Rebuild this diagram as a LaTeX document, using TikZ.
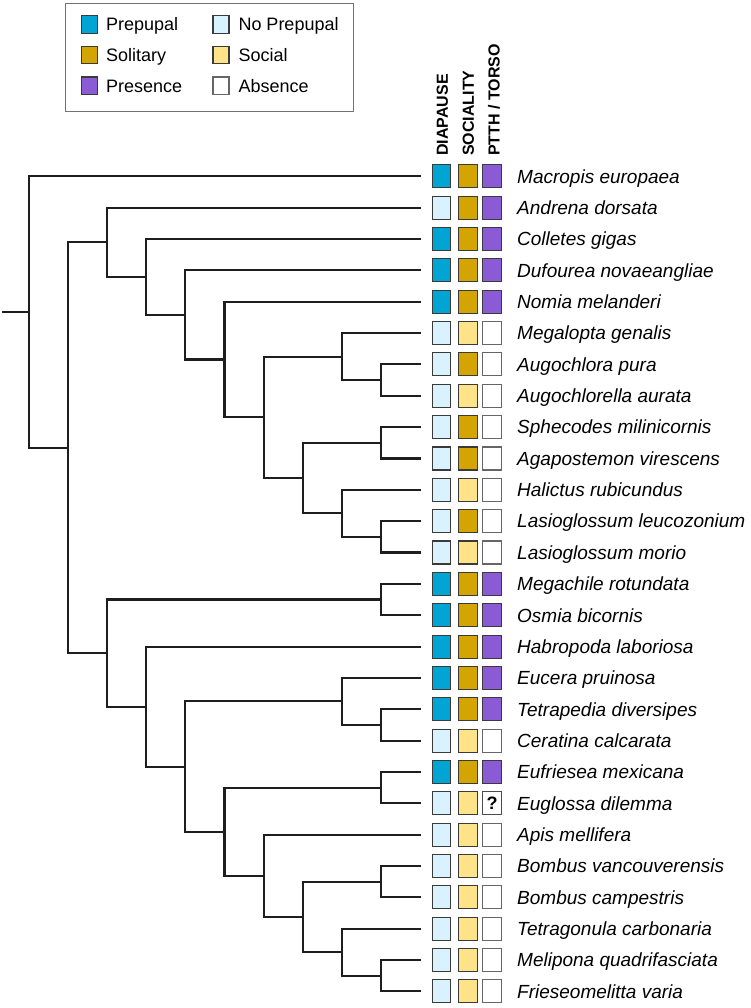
\documentclass[tikz,border=0pt]{standalone}
\usepackage{fontspec}
\setmainfont{Liberation Sans}
\setsansfont{Liberation Sans}
\definecolor{cPre}{HTML}{00A5D3}
\definecolor{cNoPre}{HTML}{D8F3FF}
\definecolor{cSol}{HTML}{D4A500}
\definecolor{cSoc}{HTML}{FFE388}
\definecolor{cPres}{HTML}{8A5BD5}
\definecolor{cAbs}{HTML}{FFFFFF}
\definecolor{cEdge}{HTML}{3A3A3A}
\definecolor{cTree}{HTML}{1E1E1E}
\tikzset{
  branch/.style={draw=cTree, line width=2.1pt, line cap=rect, line join=miter},
  cell/.style={draw=cEdge, line width=1.1pt, minimum width=18.5pt, minimum height=23pt, inner sep=0pt, anchor=center},
  lcell/.style={draw=cEdge, line width=1.1pt, minimum width=16pt, minimum height=17.5pt, inner sep=0pt, anchor=center},
  dpre/.style={fill=cPre}, dnop/.style={fill=cNoPre},
  ssol/.style={fill=cSol}, ssoc/.style={fill=cSoc},
  ppre/.style={fill=cPres}, pabs/.style={fill=cAbs, draw=black!60}, pq/.style={fill=cAbs, draw=black!70, font=\fontsize{18}{18}\selectfont\bfseries},
  sp/.style={anchor=base west, inner sep=0pt, font=\fontsize{19}{19}\selectfont\itshape},
  hdr/.style={rotate=90, anchor=west, inner sep=0pt, font=\fontsize{16}{16}\selectfont\bfseries},
  lgt/.style={anchor=base west, inner sep=0pt, font=\fontsize{18}{18}\selectfont},
}
\begin{document}
\begin{tikzpicture}[x=1pt, y=-1pt]
\useasboundingbox (0,0) rectangle (750,1008);
\fill[white] (0,0) rectangle (750,1008);

% legend
\node[draw=black!55, line width=1.2pt, minimum width=287.7pt, minimum height=108pt, inner sep=0pt, anchor=north west] (legend) at (65,2.7) {};
\node[lcell, dpre] (l1) at (89.7,24.5) {};
\node[lgt] (l1t) at (106,30.8) {Prepupal};
\node[lcell, ssol] (l2) at (89.7,55.2) {};
\node[lgt] (l2t) at (106,61.5) {Solitary};
\node[lcell, ppre] (l3) at (89.7,85.8) {};
\node[lgt] (l3t) at (106,92.1) {Presence};
\node[lcell, dnop] (l4) at (221,24.5) {};
\node[lgt] (l4t) at (238.3,30.8) {No Prepupal};
\node[lcell, ssoc] (l5) at (221,55.2) {};
\node[lgt] (l5t) at (238.3,61.5) {Social};
\node[lcell, pabs] (l6) at (221,85.8) {};
\node[lgt] (l6t) at (238.3,92.1) {Absence};

% headers
\node[hdr] (h1) at (442.3,156) {DIAPAUSE};
\node[hdr] (h2) at (468.3,156) {SOCIALITY};
\node[hdr] (h3) at (494,156) {PTTH / TORSO};

% rows
\foreach \i/\a/\b/\c/\q/\name in {
 0/dpre/ssol/ppre//Macropis europaea,
 1/dnop/ssol/ppre//Andrena dorsata,
 2/dpre/ssol/ppre//Colletes gigas,
 3/dpre/ssol/ppre//Dufourea novaeangliae,
 4/dpre/ssol/ppre//Nomia melanderi,
 5/dnop/ssoc/pabs//Megalopta genalis,
 6/dnop/ssol/pabs//Augochlora pura,
 7/dnop/ssoc/pabs//Augochlorella aurata,
 8/dnop/ssol/pabs//Sphecodes milinicornis,
 9/dnop/ssol/pabs//Agapostemon virescens,
 10/dnop/ssoc/pabs//Halictus rubicundus,
 11/dnop/ssol/pabs//Lasioglossum leucozonium,
 12/dnop/ssoc/pabs//Lasioglossum morio,
 13/dpre/ssol/ppre//Megachile rotundata,
 14/dpre/ssol/ppre//Osmia bicornis,
 15/dpre/ssol/ppre//Habropoda laboriosa,
 16/dpre/ssol/ppre//Eucera pruinosa,
 17/dpre/ssol/ppre//Tetrapedia diversipes,
 18/dnop/ssoc/pabs//Ceratina calcarata,
 19/dpre/ssol/ppre//Eufriesea mexicana,
 20/dnop/ssoc/pq/?/Euglossa dilemma,
 21/dnop/ssoc/pabs//Apis mellifera,
 22/dnop/ssoc/pabs//Bombus vancouverensis,
 23/dnop/ssoc/pabs//Bombus campestris,
 24/dnop/ssoc/pabs//Tetragonula carbonaria,
 25/dnop/ssoc/pabs//Melipona quadrifasciata,
 26/dnop/ssoc/pabs//Frieseomelitta varia}{
  \pgfmathsetmacro{\yy}{176.3+31.35*\i}
  \coordinate (t\i) at (420,\yy);
  \node[cell, \a] (d\i) at (441.3,\yy) {};
  \node[cell, \b] (s\i) at (468,\yy) {};
  \node[cell, \c] (p\i) at (492,\yy) {\q};
  \node[sp] (n\i) at (517,\yy+6.8) {\name};
}

% internal nodes
\coordinate (stub) at (2.7,311.99);
\coordinate (root) at (29,311.99);
\coordinate (A) at (68.1,447.68);
\coordinate (B) at (107.2,242.3);
\coordinate (C) at (146.3,276.96);
\coordinate (D) at (185.4,314.93);
\coordinate (E) at (224.5,359.5);
\coordinate (F) at (263.6,417.3);
\coordinate (G) at (341.8,356.56);
\coordinate (H) at (380.9,380.08);
\coordinate (I) at (302.7,478.04);
\coordinate (J) at (380.9,442.78);
\coordinate (K) at (341.8,513.31);
\coordinate (L) at (380.9,536.83);
\coordinate (M) at (107.2,653.05);
\coordinate (N) at (380.9,599.53);
\coordinate (O) at (146.3,706.56);
\coordinate (P) at (185.4,766.56);
\coordinate (Q) at (341.8,701.41);
\coordinate (R) at (380.9,724.93);
\coordinate (S) at (224.5,831.7);
\coordinate (T) at (380.9,787.63);
\coordinate (U) at (263.6,875.8);
\coordinate (V) at (302.7,916.94);
\coordinate (W) at (380.9,881.68);
\coordinate (X) at (341.8,952.2);
\coordinate (Y) at (380.9,975.73);

\draw[branch] (stub) -- (root);
\foreach \p/\c in {root/t0, root/A, A/B, A/M, B/t1, B/C, C/t2, C/D, D/t3, D/E,
  E/t4, E/F, F/G, F/I, G/t5, G/H, H/t6, H/t7, I/J, I/K, J/t8, J/t9, K/t10, K/L,
  L/t11, L/t12, M/N, M/O, N/t13, N/t14, O/t15, O/P, P/Q, P/S, Q/t16, Q/R,
  R/t17, R/t18, S/T, S/U, T/t19, T/t20, U/t21, U/V, V/W, V/X, W/t22, W/t23,
  X/t24, X/Y, Y/t25, Y/t26}{
  \draw[branch] (\p) |- (\c);
}
\end{tikzpicture}
\end{document}
